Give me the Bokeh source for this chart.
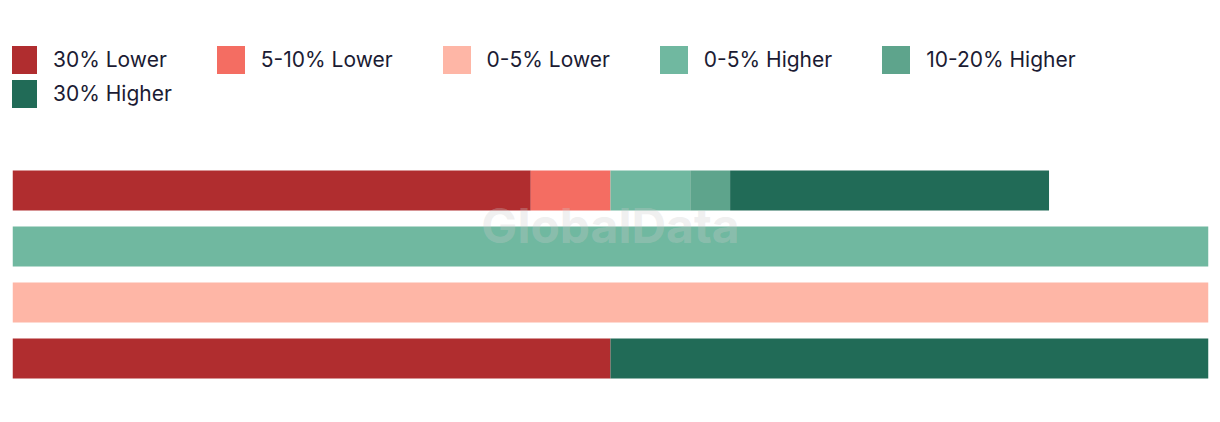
from bokeh.plotting import figure
from bokeh.models import ColumnDataSource, Range1d, Legend, LegendItem, Label
from bokeh.embed import file_html
from bokeh.resources import INLINE

# ---- data ----
rows = [0, 1, 2, 3]  # bar rows, top to bottom (no labels shown in the chart)
series = ["30% Lower", "5-10% Lower", "0-5% Lower", "0-5% Higher", "10-20% Higher", "30% Higher"]
lower30 = [13, 0, 0, 15]
lower5_10 = [2, 0, 0, 0]
lower0_5 = [0, 0, 30, 0]
higher0_5 = [2, 30, 0, 0]
higher10_20 = [1, 0, 0, 0]
higher30 = [8, 0, 0, 15]
colors = ["#B02D2F", "#F46D62", "#FEB6A6", "#70B8A0", "#5EA48C", "#216B57"]

keys = ["s0", "s1", "s2", "s3", "s4", "s5"]
source = ColumnDataSource(dict(y=rows, s0=lower30, s1=lower5_10, s2=lower0_5,
                               s3=higher0_5, s4=higher10_20, s5=higher30))

W, H = 1220, 422
p = figure(width=W, height=H, output_backend="svg", toolbar_location=None,
           x_range=Range1d(0, 30), y_range=Range1d((H - 190) / 56, -190 / 56),
           min_border_left=12, min_border_right=12, min_border_top=0, min_border_bottom=0)
p.axis.visible = False
p.grid.visible = False
p.outline_line_color = None
p.background_fill_color = "white"
p.border_fill_color = "white"

renderers = p.hbar_stack(keys, y="y", height=40 / 56, color=colors, line_color=None,
                         source=source)

font = "Inter"
common = dict(orientation="horizontal", padding=0, margin=0, spacing=46,
              glyph_width=35, glyph_height=35, label_standoff=13,
              label_text_font=font, label_text_font_size="21px",
              label_text_color="#1B1B33", border_line_alpha=0,
              background_fill_alpha=0, label_height=35)
leg1 = Legend(items=[LegendItem(label=series[i], renderers=[renderers[i]]) for i in range(5)],
              location=(-7, H - 77), **common)
leg2 = Legend(items=[LegendItem(label=series[5], renderers=[renderers[5]])],
              location=(-7, H - 111), **common)
p.add_layout(leg1, "center")
p.add_layout(leg2, "center")

wm = Label(x=15, y=(225 - 190) / 56, text="GlobalData", text_align="center",
           text_baseline="alphabetic",
           text_font=font, text_font_style="bold", text_font_size="48px",
           text_color="#cccccc", text_alpha=0.3)
p.add_layout(wm)

open("out.html", "w").write(file_html(p, INLINE))
